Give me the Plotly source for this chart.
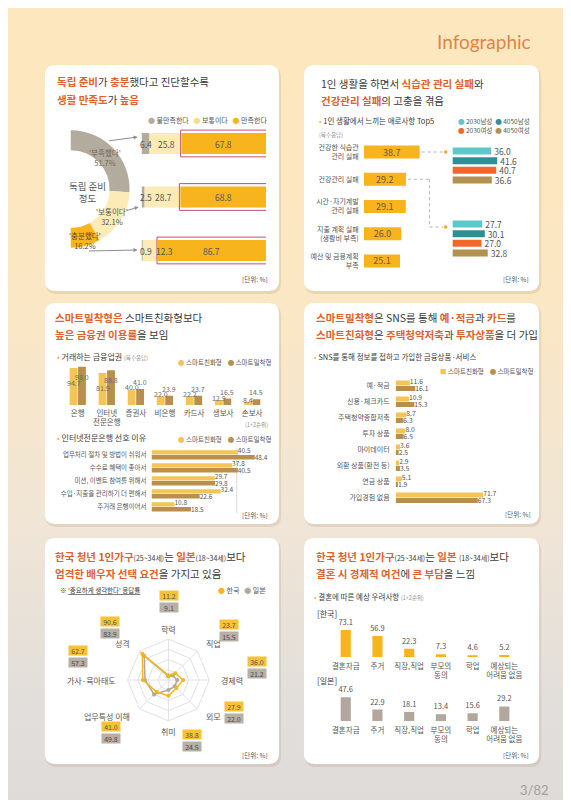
import numpy as np
import plotly.graph_objects as go

W, H = 571, 800
FONT = "Noto Sans CJK KR, Noto Sans, sans-serif"

# ---------------- data ----------------
# Panel 1: 독립 준비 정도 / 생활 만족도
prep_levels = ["'부족했다'", "'보통이다'", "'충분했다'"]
prep_share = [51.7, 32.1, 16.2]
sat_names = ["불만족한다", "보통이다", "만족한다"]
sat_unsat = [6.4, 2.5, 0.9]
sat_neutral = [25.8, 28.7, 12.3]
sat_sat = [67.8, 68.8, 86.7]

# Panel 2: 1인 생활 애로사항 Top5
hard_items = ["건강한 식습관<br>관리 실패", "건강관리 실패", "시간·자기계발<br>관리 실패",
              "지출 계획 실패<br>(생활비 부족)", "예산 및 금융계획<br>부족"]
hard_values = [38.7, 29.2, 29.1, 26.0, 25.1]
groups = ["2030남성", "4050남성", "2030여성", "4050여성"]
eat_fail_by_group = [36.0, 41.6, 40.7, 36.6]
health_fail_by_group = [27.7, 30.1, 27.0, 32.8]

# Panel 3: 거래 금융업권 / 인터넷전문은행 선호 이유
segments = ["스마트친화형", "스마트밀착형"]
fin_sectors = ["은행", "인터넷<br>전문은행", "증권사", "비은행", "카드사", "생보사", "손보사"]
sector_friendly = [94.7, 81.9, 40.0, 22.0, 22.2, 12.9, 8.4]
sector_close = [98.0, 88.8, 41.0, 23.9, 23.7, 16.5, 14.5]
reasons = ["업무처리 절차 및 방법이 쉬워서", "수수료 혜택이 좋아서", "미션, 이벤트 참여를 위해서",
           "수입·지출을 관리하기 더 편해서", "주거래 은행이어서"]
reason_friendly = [40.5, 37.8, 29.7, 32.4, 10.8]
reason_close = [48.4, 40.5, 29.8, 22.6, 18.5]

# Panel 4: SNS 통해 가입한 금융상품
sns_items = ["예·적금", "신용·체크카드", "주택청약종합저축", "투자 상품", "마이데이터",
             "외환 상품(환전 등)", "연금 상품", "가입경험 없음"]
sns_friendly = [11.6, 10.9, 8.7, 8.0, 3.6, 2.9, 5.1, 71.7]
sns_close = [16.1, 15.3, 6.3, 6.5, 2.5, 3.5, 1.9, 67.3]

# Panel 5: 배우자 선택 요건
spouse_items = ["학력", "직업", "경제력", "외모", "취미", "업무특성 이해", "가사·육아태도", "성격"]
spouse_korea = [11.2, 23.7, 36.0, 27.9, 38.8, 41.0, 62.7, 90.6]
spouse_japan = [9.1, 15.5, 21.2, 22.0, 24.5, 49.8, 57.3, 83.9]
countries = ["한국", "일본"]

# Panel 6: 결혼 우려사항
worry_items = ["결혼자금", "주거", "직장,직업", "부모의<br>동의", "학업", "예상되는<br>어려움 없음"]
worry_korea = [73.1, 56.9, 22.3, 7.3, 4.6, 5.2]
worry_japan = [47.6, 22.9, 18.1, 13.4, 15.6, 29.2]

# ---------------- style ----------------
C_OR = "#E2612B"
C_DK = "#3A3A3A"
C_TX = "#555555"
C_MUTE = "#8C8C8C"
C_GRAY = "#B4AB9F"
C_LY = "#FCEAB7"
C_Y = "#F8B41D"
C_FR = "#F4C457"
C_CL = "#B88F4E"
C_GROUP = ["#5EC7CA", "#2F8F94", "#F0672E", "#B39151"]
C_KR = "#F6B521"
C_JP = "#B1A79C"


def PX(x):
    return x / W


def PY(y):
    return 1 - y / H


shapes = []
ann = []
axes = {}


def text(x, y, s, size=8, color=C_TX, xanchor="left", yanchor="middle", family=FONT, **kw):
    ann.append(dict(x=PX(x), y=PY(y), xref="paper", yref="paper", text=s, showarrow=False,
                    xanchor=xanchor, yanchor=yanchor,
                    font=dict(family=family, size=size, color=color), **kw))


def set_axes(idx, xdom, ydom, xr, yr, xkw=None, ykw=None):
    sx = "" if idx == 1 else str(idx)
    base = dict(showgrid=False, zeroline=False, showline=False, ticks="",
                showticklabels=False, fixedrange=True)
    xa = dict(base, domain=[PX(xdom[0]), PX(xdom[1])], range=xr, anchor="y" + sx)
    ya = dict(base, domain=[PY(ydom[1]), PY(ydom[0])], range=yr, anchor="x" + sx)
    if xkw:
        xa.update(xkw)
    if ykw:
        ya.update(ykw)
    axes["xaxis" + sx] = xa
    axes["yaxis" + sx] = ya


def ytick(labels, size=7, standoff=4):
    return dict(showticklabels=True, tickmode="array", tickvals=list(range(len(labels))),
                ticktext=labels, tickfont=dict(family=FONT, size=size, color=C_TX),
                ticklabelstandoff=standoff)


def xtick(labels, size=7.5, standoff=3):
    return dict(showticklabels=True, tickmode="array", tickvals=list(range(len(labels))),
                ticktext=labels, tickfont=dict(family=FONT, size=size, color=C_TX),
                ticklabelstandoff=standoff)


# ---------------- background ----------------
stops_y = [0, 280, 520, 700, 800]
stops_c = np.array([[253, 231, 190], [251, 231, 195], [240, 229, 214], [225, 222, 219], [222, 219, 216]])
for y0 in range(0, 800, 8):
    c = [int(round(np.interp(y0 + 4, stops_y, stops_c[:, k]))) for k in range(3)]
    shapes.append(dict(type="rect", xref="paper", yref="paper", x0=0, x1=1,
                       y0=PY(y0 + 8.6), y1=PY(y0), fillcolor=f"rgb({c[0]},{c[1]},{c[2]})",
                       line=dict(width=0), layer="below"))


def rr_path(x0, y0, x1, y1, r):
    return (f"M {PX(x0 + r)},{PY(y0)} L {PX(x1 - r)},{PY(y0)} Q {PX(x1)},{PY(y0)} {PX(x1)},{PY(y0 + r)} "
            f"L {PX(x1)},{PY(y1 - r)} Q {PX(x1)},{PY(y1)} {PX(x1 - r)},{PY(y1)} "
            f"L {PX(x0 + r)},{PY(y1)} Q {PX(x0)},{PY(y1)} {PX(x0)},{PY(y1 - r)} "
            f"L {PX(x0)},{PY(y0 + r)} Q {PX(x0)},{PY(y0)} {PX(x0 + r)},{PY(y0)} Z")


panels = [(37, 57, 272, 283), (297, 57, 533, 283), (37, 295, 272, 516),
          (297, 295, 533, 516), (37, 530, 272, 756), (297, 530, 533, 756)]
for (x0, y0, x1, y1) in panels:
    shapes.append(dict(type="path", xref="paper", yref="paper", path=rr_path(x0 + 1, y0 + 2, x1 + 2, y1 + 3, 11),
                       fillcolor="rgba(150,120,90,0.16)", line=dict(width=0), layer="below"))
    shapes.append(dict(type="path", xref="paper", yref="paper", path=rr_path(x0, y0, x1, y1, 11),
                       fillcolor="white", line=dict(width=0), layer="below"))

text(527, 33, "Infographic", size=19, color="#DF8447", xanchor="right", family="Lato, Open Sans, sans-serif")
text(545, 782, "3/82", size=13, color="#A0A0A0", xanchor="right", family="Lato, Open Sans, sans-serif")


def em(s):
    return f"<b><span style='color:{C_OR}'>{s}</span></b>"


def sm(s):
    return f"<span style='font-size:7px'>{s}</span>"


TS = 10.5
titles = [
    (47, 73, em("독립 준비") + "가 " + em("충분") + "했다고 진단할수록"),
    (47, 91, em("생활 만족도") + "가 " + em("높음")),
    (312, 75, "1인 생활을 하면서 " + em("식습관 관리 실패") + "와"),
    (312, 92, em("건강관리 실패") + "의 고충을 겪음"),
    (45, 310, em("스마트밀착형은") + " 스마트친화형보다"),
    (45, 326, em("높은 금융권 이용률") + "을 보임"),
    (307, 310, em("스마트밀착형") + "은 SNS를 통해 " + em("예·적금") + "과 " + em("카드") + "를"),
    (307, 326, em("스마트친화형") + "은 " + em("주택청약저축") + "과 " + em("투자상품") + "을 더 가입"),
    (45, 548, em("한국 청년 1인가구") + sm("(25~34세)") + "는 " + em("일본") + sm("(18~34세)") + "보다"),
    (45, 565, em("엄격한 배우자 선택 요건") + "을 가지고 있음"),
    (307, 548, em("한국 청년 1인가구") + sm("(25~34세)") + "는 " + em("일본") + " " + sm("(18~34세)") + "보다"),
    (307, 565, em("결혼 시 경제적 여건") + "에 " + em("큰 부담") + "을 느낌"),
]
for (x, y, s) in titles:
    text(x, y, s, size=TS, color=C_DK)

for (x1, y1) in [(263, 271), (525, 271), (263, 507), (527, 506), (263, 747), (525, 747)]:
    text(x1, y1, "[단위: %]", size=6.5, color=C_TX, xanchor="right")


def dot(c, sym="●"):
    return f"<span style='color:{c}'>{sym}</span>"


fig = go.Figure()

# ================= Panel 1 =================
rows1 = list(range(len(sat_unsat)))
set_axes(1, (134, 259), (108.75, 269.25), [0, 100], [len(rows1) - 0.5, -0.5])
base_neutral = list(sat_unsat)
base_sat = list(np.add(sat_unsat, sat_neutral))
for vals, base, col in [(sat_unsat, None, C_GRAY), (sat_neutral, base_neutral, C_LY), (sat_sat, base_sat, C_Y)]:
    fig.add_trace(go.Bar(x=vals, y=rows1, base=base, orientation="h", width=0.39,
                         marker=dict(color=col, line=dict(width=0)), hoverinfo="skip",
                         xaxis="x", yaxis="y"))
for i in rows1:
    ann.append(dict(x=0, y=i, xref="x", yref="y", text=f"{sat_unsat[i]:.1f}", showarrow=False,
                    xanchor="left", xshift=-4, font=dict(family=FONT, size=8.5, color=C_TX)))
    if sat_neutral[i] >= 15:
        ann.append(dict(x=sat_unsat[i] + sat_neutral[i] / 2, y=i, xref="x", yref="y",
                        text=f"{sat_neutral[i]:.1f}", showarrow=False, xshift=1,
                        font=dict(family=FONT, size=8.5, color=C_TX)))
    else:
        ann.append(dict(x=sat_unsat[i], y=i, xref="x", yref="y", text=f"{sat_neutral[i]:.1f}",
                        showarrow=False, xanchor="left", xshift=11,
                        font=dict(family=FONT, size=8.5, color=C_TX)))
    ann.append(dict(x=base_sat[i] + sat_sat[i] / 2, y=i, xref="x", yref="y", text=f"{sat_sat[i]:.1f}",
                    showarrow=False, font=dict(family=FONT, size=8.5, color=C_TX)))
    shapes.append(dict(type="rect", xref="x", yref="y", x0=base_sat[i] - 0.8, x1=101.5,
                       y0=i - 0.25, y1=i + 0.25, line=dict(color="#C4506A", width=1),
                       fillcolor="rgba(0,0,0,0)", layer="above"))

text(262, 112, f"{dot(C_GRAY)} {sat_names[0]}   {dot('#F7DC8E')} {sat_names[1]}   {dot(C_Y)} {sat_names[2]}",
     size=7, color=C_TX, xanchor="right")

# donut
cx, cy, r = 63, 181, 59
fig.add_trace(go.Pie(values=prep_share + [sum(prep_share)], labels=prep_levels + [""],
                     marker=dict(colors=[C_GRAY, C_LY, C_Y, "rgba(0,0,0,0)"], line=dict(width=0)),
                     hole=0.66, direction="clockwise", rotation=0, sort=False, textinfo="none",
                     hoverinfo="skip", showlegend=False,
                     domain=dict(x=[PX(cx - r), PX(cx + r)], y=[PY(cy + r), PY(cy - r)])))
text(97, 149, f"{prep_levels[0]}<br>{prep_share[0]}%", size=7.5, color="#6F655B", xanchor="center")
text(104, 208, f"{prep_levels[1]}<br>{prep_share[1]}%", size=7.5, color=C_TX, xanchor="center")
text(77, 232, f"{prep_levels[2]}<br>{prep_share[2]}%", size=7.5, color="#5A4A2A", xanchor="center")
text(80, 184, "독립 준비<br>정도", size=9.5, color=C_TX, xanchor="center")
for (tx, ty, hx, hy) in [(100, 133, 130, 129), (118, 203, 131, 199), (80, 243, 130, 242)]:
    ann.append(dict(x=PX(hx), y=PY(hy), xref="paper", yref="paper", text="", showarrow=True,
                    ax=tx - hx, ay=ty - hy, arrowhead=2, arrowsize=0.8, arrowwidth=1,
                    arrowcolor="#8E8E8E", standoff=0, startstandoff=0))

# ================= Panel 2 =================
P2X0, P2S = 357, 1.45
rows2 = list(range(len(hard_values)))
set_axes(2, (P2X0, P2X0 + 50 * P2S), (130.4, 266.6), [0, 50], [len(rows2) - 0.5, -0.5],
         ykw=ytick(hard_items, size=7, standoff=4))
fig.add_trace(go.Bar(x=hard_values, y=rows2, orientation="h", width=0.48,
                     marker=dict(color=C_Y, line=dict(width=0)),
                     text=[f"{v:.1f}" for v in hard_values], textposition="inside",
                     insidetextanchor="middle", constraintext="none",
                     textfont=dict(family=FONT, size=9, color="#6B5A3C"),
                     hoverinfo="skip", xaxis="x2", yaxis="y2"))

G0, GS = 446, 1.08
rowsg = list(range(len(groups)))
set_axes(3, (G0, G0 + 60 * GS), (138.2, 176.8), [0, 60], [len(rowsg) - 0.5, -0.5])
set_axes(4, (G0, G0 + 60 * GS), (211.2, 249.8), [0, 60], [len(rowsg) - 0.5, -0.5])
for vals, xa, ya in [(eat_fail_by_group, "x3", "y3"), (health_fail_by_group, "x4", "y4")]:
    fig.add_trace(go.Bar(x=vals, y=rowsg, orientation="h", width=0.72,
                         marker=dict(color=C_GROUP, line=dict(width=0)),
                         text=[f"{v:.1f}" for v in vals], textposition="outside",
                         constraintext="none", cliponaxis=False,
                         textfont=dict(family=FONT, size=8.5, color=C_TX),
                         hoverinfo="skip", xaxis=xa, yaxis=ya))


def p2x(v):
    return P2X0 + v * P2S


row_y = [144 + 27.25 * i for i in rows2]
LD = dict(color="#B5B5B5", width=1, dash="dot")
shapes.append(dict(type="line", xref="paper", yref="paper", x0=PX(p2x(hard_values[0]) + 2), y0=PY(row_y[0]),
                   x1=PX(437), y1=PY(row_y[0]), line=LD, layer="above"))
for (a, b, c, d) in [(p2x(hard_values[1]) + 2, row_y[1], 423, row_y[1]), (423, row_y[1], 423, 219),
                     (423, 219, 437, 219)]:
    shapes.append(dict(type="line", xref="paper", yref="paper", x0=PX(a), y0=PY(b), x1=PX(c), y1=PY(d),
                       line=LD, layer="above"))
for yy in [row_y[0], 219]:
    shapes.append(dict(type="circle", xref="paper", yref="paper", x0=PX(437.5), x1=PX(441),
                       y0=PY(yy + 1.75), y1=PY(yy - 1.75), fillcolor="#F5A623", line=dict(width=0),
                       layer="above"))

text(310, 113, f"{dot(C_Y, '•')} 1인 생활에서 느끼는 애로사항 Top5", size=7.5, color=C_DK)
text(310, 127, "(복수응답)", size=5.5, color=C_MUTE)
text(450, 113, f"{dot(C_GROUP[0])} {groups[0]}  {dot(C_GROUP[1])} {groups[1]}", size=6.5, color=C_TX)
text(450, 122, f"{dot(C_GROUP[2])} {groups[2]}  {dot(C_GROUP[3])} {groups[3]}", size=6.5, color=C_TX)

# ================= Panel 3 (vertical) =================
cols3 = list(range(len(fin_sectors)))
set_axes(5, (55.4, 259.6), (358, 397), [-0.5, len(cols3) - 0.5], [0, 100],
         xkw=xtick(fin_sectors, size=7.5, standoff=2))
BW3 = 0.27
fig.add_trace(go.Bar(x=cols3, y=sector_friendly, offset=-BW3 - 0.01, width=BW3,
                     marker=dict(color=C_FR, line=dict(width=0)), hoverinfo="skip", xaxis="x5", yaxis="y5"))
fig.add_trace(go.Bar(x=cols3, y=sector_close, offset=0.01, width=BW3,
                     marker=dict(color=C_CL, line=dict(width=0)), hoverinfo="skip", xaxis="x5", yaxis="y5"))
for i in cols3:
    vf, vc = sector_friendly[i], sector_close[i]
    ann.append(dict(x=i - BW3 / 2 - 0.01, y=vf, xref="x5", yref="y5", text=f"{vf:.1f}", showarrow=False,
                    yshift=(-15 if vf > 50 else 2), font=dict(family=FONT, size=7, color="#6A6A6A")))
    ann.append(dict(x=i + BW3 / 2 + 0.01, y=vc, xref="x5", yref="y5", text=f"{vc:.1f}", showarrow=False,
                    yshift=(-10 if vc > 50 else 7), font=dict(family=FONT, size=7, color="#6A6A6A")))
text(47, 348, f"{dot(C_Y, '•')} 거래하는 금융업권 <span style='font-size:5.5px;color:{C_MUTE}'>(복수응답)</span>",
     size=8, color=C_DK)
text(267, 354, f"{dot(C_FR)} {segments[0]}    {dot(C_CL)} {segments[1]}", size=6.5, color=C_TX, xanchor="right")

# ================= Panel 3 (horizontal) =================
rows3 = list(range(len(reasons)))
set_axes(6, (144, 144 + 55 * 2.14), (440.5, 505.5), [0, 55], [len(rows3) - 0.5, -0.5],
         ykw=ytick(reasons, size=6.5, standoff=4))
BH3 = 0.34
for vals, off, col, tp in [(reason_friendly, -BH3 - 0.03, C_FR, "top right"), (reason_close, 0.0, C_CL, "bottom right")]:
    fig.add_trace(go.Bar(x=vals, y=rows3, orientation="h", offset=off, width=BH3,
                         marker=dict(color=col, line=dict(width=0)),
                         hoverinfo="skip", xaxis="x6", yaxis="y6"))
    fig.add_trace(go.Scatter(x=vals, y=rows3, mode="text", text=[f"{v:.1f}" for v in vals], textposition=tp,
                             textfont=dict(family=FONT, size=6.5, color=C_TX), cliponaxis=False,
                             hoverinfo="skip", xaxis="x6", yaxis="y6"))
shapes.append(dict(type="line", xref="x6", yref="y6", x0=40, x1=40, y0=-0.6, y1=len(rows3) - 0.4,
                   line=dict(color="#CFCFCF", width=0.8), layer="below"))
text(263, 417, "(1+2순위)", size=5.5, color=C_MUTE, xanchor="right")
text(47, 429, f"{dot(C_Y, '•')} 인터넷전문은행 선호 이유", size=8, color=C_DK)
text(267, 431, f"{dot(C_FR)} {segments[0]}    {dot(C_CL)} {segments[1]}", size=6.5, color=C_TX, xanchor="right")

# ================= Panel 4 =================
rows4 = list(range(len(sns_items)))
set_axes(7, (389, 389 + 80 * 1.225), (370, 498), [0, 80], [len(rows4) - 0.5, -0.5],
         ykw=ytick(sns_items, size=7, standoff=5))
BH4 = 0.32
for vals, off, col, tp in [(sns_friendly, -BH4 - 0.03, C_FR, "top right"), (sns_close, 0.0, C_CL, "bottom right")]:
    fig.add_trace(go.Bar(x=vals, y=rows4, orientation="h", offset=off, width=BH4,
                         marker=dict(color=col, line=dict(width=0)),
                         hoverinfo="skip", xaxis="x7", yaxis="y7"))
    fig.add_trace(go.Scatter(x=vals, y=rows4, mode="text", text=[f"{v:.1f}" for v in vals], textposition=tp,
                             textfont=dict(family=FONT, size=6.8, color=C_TX), cliponaxis=False,
                             hoverinfo="skip", xaxis="x7", yaxis="y7"))
text(305, 348, f"{dot(C_Y, '•')} SNS를 통해 정보를 접하고 가입한 금융상품·서비스", size=7.5, color=C_DK)
text(530, 363, f"{dot(C_FR, '■')} {segments[0]}    {dot(C_CL)} {segments[1]}", size=6.5, color=C_TX,
     xanchor="right")

# ================= Panel 5 (radar) =================
RCX, RCY, RR = 161, 672, 41
fig.add_trace(go.Scatterpolar(r=spouse_japan + spouse_japan[:1], theta=spouse_items + spouse_items[:1],
                              mode="lines+markers", line=dict(color=C_JP, width=1.5),
                              marker=dict(size=4, color=C_JP), hoverinfo="skip", subplot="polar"))
fig.add_trace(go.Scatterpolar(r=spouse_korea + spouse_korea[:1], theta=spouse_items + spouse_items[:1],
                              mode="lines+markers", line=dict(color=C_KR, width=1.5),
                              marker=dict(size=4, color=C_KR), hoverinfo="skip", subplot="polar"))
polar = dict(domain=dict(x=[PX(RCX - RR), PX(RCX + RR)], y=[PY(RCY + RR), PY(RCY - RR)]),
             bgcolor="rgba(0,0,0,0)", gridshape="linear",
             angularaxis=dict(direction="clockwise", rotation=90, showticklabels=False, ticks="",
                              showline=True, linecolor="#E2E2E2", gridcolor="#E2E2E2", linewidth=1),
             radialaxis=dict(range=[0, 100], showticklabels=False, ticks="", showline=False,
                             gridcolor="#E2E2E2", tickvals=[25, 50, 75, 100]))
n = len(spouse_items)
for k, name in enumerate(spouse_items):
    ang = 2 * np.pi * k / n
    lx = RCX + 51 * np.sin(ang)
    ly = RCY - 51 * np.cos(ang)
    s = np.sin(ang)
    xa = "center" if abs(s) < 0.2 else ("left" if s > 0 else "right")
    text(lx, ly, name, size=8, color=C_TX, xanchor=xa)
box_pos = [(162, 587), (222, 616), (250, 653), (227, 698), (185, 726), (103, 718), (70, 642), (102, 613)]
for k, (bx, by) in enumerate(box_pos):
    text(bx, by, f"{spouse_korea[k]:.1f}", size=7, color=C_TX, xanchor="center", bgcolor="#F9C235",
         width=18, height=9, borderpad=0)
    text(bx, by + 12.5, f"{spouse_japan[k]:.1f}", size=7, color="#4A4A4A", xanchor="center",
         bgcolor="#B8AFA5", width=18, height=9, borderpad=0)
text(50, 582, "※ <u>'중요하게 생각한다' 응답률</u>", size=6.5, color=C_DK)
text(261, 582, f"{dot(C_KR)} {countries[0]}   {dot(C_JP)} {countries[1]}", size=7, color=C_TX, xanchor="right")

# ================= Panel 6 =================
cols6 = list(range(len(worry_items)))
set_axes(8, (323, 514), (619.4, 649), [-0.5, len(cols6) - 0.5], [0, 80],
         xkw=xtick(worry_items, size=7.5, standoff=3))
set_axes(9, (323, 514), (683, 713), [-0.5, len(cols6) - 0.5], [0, 60],
         xkw=xtick(worry_items, size=7.5, standoff=3))
for vals, col, xa, ya in [(worry_korea, C_Y, "x8", "y8"), (worry_japan, C_JP, "x9", "y9")]:
    fig.add_trace(go.Bar(x=cols6, y=vals, width=0.32, marker=dict(color=col, line=dict(width=0)),
                         text=[f"{v:.1f}" for v in vals], textposition="outside", constraintext="none",
                         cliponaxis=False, textfont=dict(family=FONT, size=7.5, color=C_TX),
                         hoverinfo="skip", xaxis=xa, yaxis=ya))
text(305, 588, f"{dot(C_Y, '•')} 결혼에 따른 예상 우려사항 <span style='font-size:5.5px;color:{C_MUTE}'>(1+2순위)</span>",
     size=7.5, color=C_DK)
text(308, 605, f"[{countries[0]}]", size=8, color=C_DK)
text(308, 672, f"[{countries[1]}]", size=8, color=C_DK)

fig.update_layout(
    width=W, height=H, margin=dict(l=0, r=0, t=0, b=0),
    paper_bgcolor="#FEE8C1", plot_bgcolor="rgba(0,0,0,0)",
    showlegend=False, barmode="overlay",
    font=dict(family=FONT, size=8, color=C_TX),
    shapes=shapes, annotations=ann, polar=polar,
    **axes,
)
fig.write_html("out.html")
